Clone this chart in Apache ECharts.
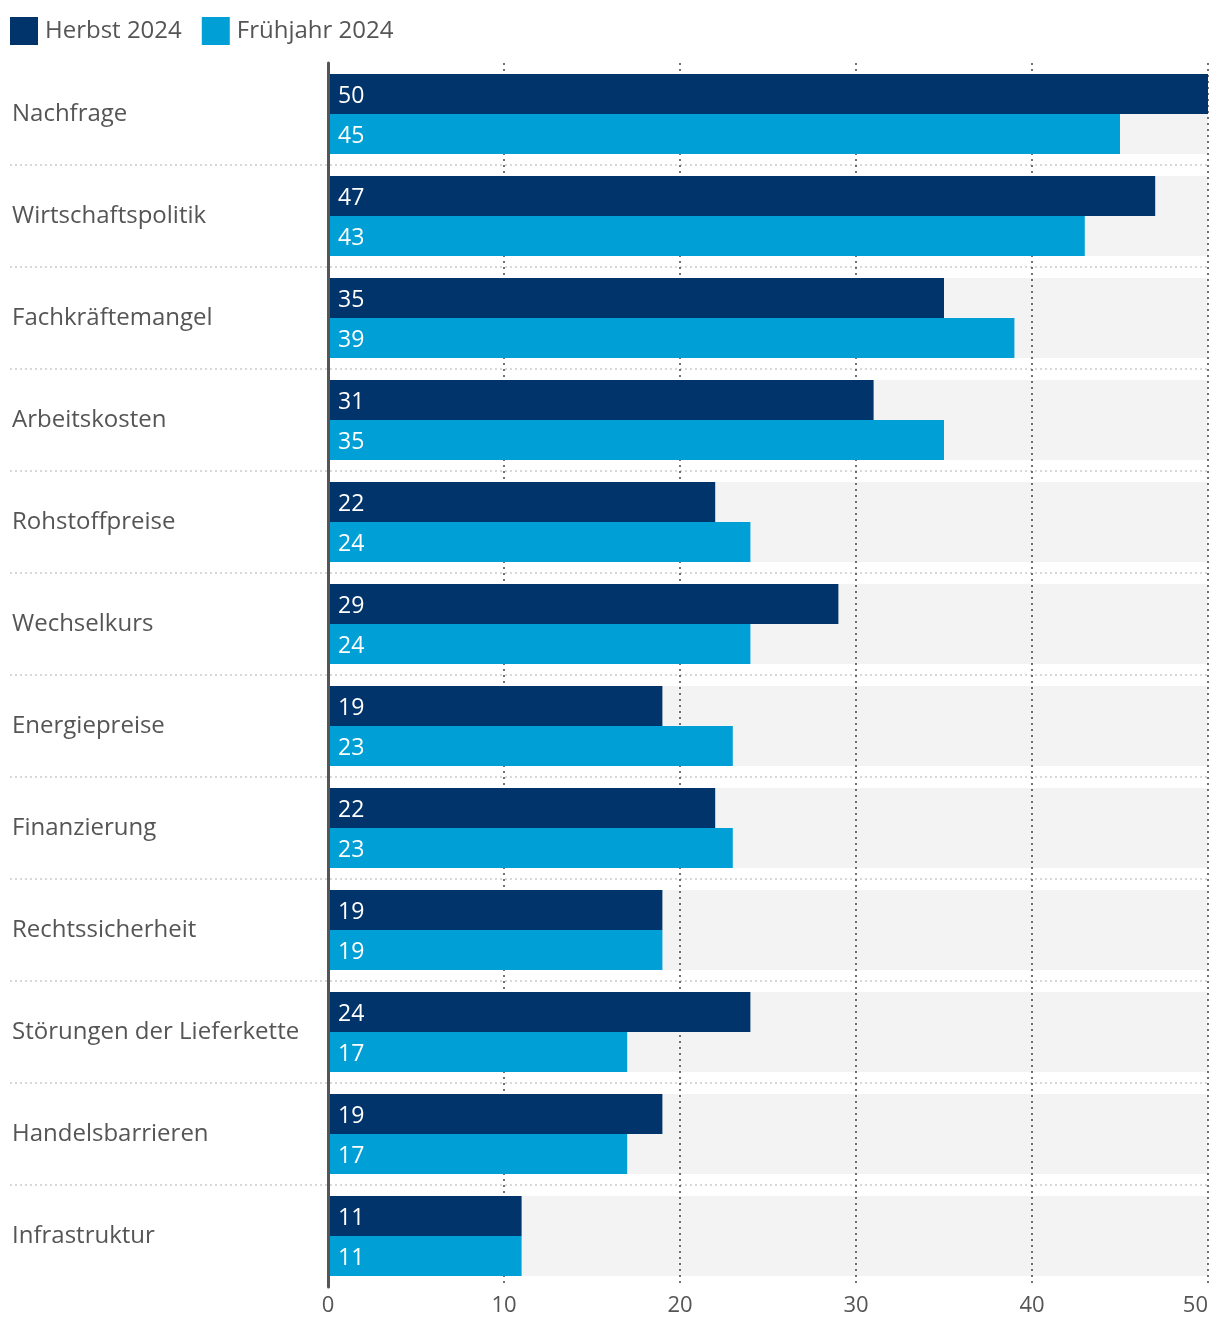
<!DOCTYPE html>
<html><head><meta charset="utf-8">
<script src="https://cdn.jsdelivr.net/npm/echarts@6/dist/echarts.min.js"></script>
<style>html,body{margin:0;padding:0;background:#fff}#c{width:1220px;height:1332px}</style>
</head><body><div id="c"></div>
<script>
const categories = ["Nachfrage","Wirtschaftspolitik","Fachkräftemangel","Arbeitskosten","Rohstoffpreise","Wechselkurs","Energiepreise","Finanzierung","Rechtssicherheit","Störungen der Lieferkette","Handelsbarrieren","Infrastruktur"];
const herbst2024 = [50,47,35,31,22,29,19,22,19,24,19,11];
const fruehjahr2024 = [45,43,39,35,24,24,23,23,19,17,17,11];
const seriesNames = ["Herbst 2024","Frühjahr 2024"];
const axisMax = 50;
const backgroundValues = categories.map(() => axisMax);

const FONT = 'Open Sans';
const chart = echarts.init(document.getElementById('c'), null, {renderer:'canvas'});
const labelStyle = {show:true, position:'insideLeft', distance:10, offset:[0,2], color:'#fff', fontSize:23, fontFamily:FONT};
chart.setOption({
  animation:false,
  textStyle:{fontFamily:FONT},
  legend:{
    data:seriesNames, left:5, top:12, icon:'rect', itemWidth:28, itemHeight:28, itemGap:20,
    textStyle:{fontSize:24, color:'#555', fontFamily:FONT, padding:[2,0,0,2]}
  },
  grid:[
    {left:328, right:12, top:63, bottom:45},
    {left:10, right:12, top:63, bottom:45}
  ],
  xAxis:[
    {gridIndex:0, type:'value', min:0, max:axisMax, interval:10,
     axisLine:{show:false}, axisTick:{show:false},
     axisLabel:{fontSize:22, color:'#555', margin:8, fontFamily:FONT, alignMaxLabel:'right'},
     splitLine:{show:true, lineStyle:{color:'#444', width:1.5, type:[2,4]}}},
    {gridIndex:1, type:'value', show:false, min:0, max:1}
  ],
  yAxis:[
    {gridIndex:0, type:'category', data:categories, inverse:true,
     axisLine:{show:true, lineStyle:{color:'#555', width:3}}, axisTick:{show:false},
     axisLabel:{show:false}, splitLine:{show:false}, z:3},
    {gridIndex:0, type:'category', data:categories, inverse:true, show:false},
    {gridIndex:1, type:'category', data:categories, inverse:true,
     axisLine:{show:false}, axisTick:{show:false},
     axisLabel:{inside:true, margin:2, fontSize:24, color:'#555', fontFamily:FONT, padding:[4,0,0,0]},
     splitLine:{show:true, showMinLine:false, showMaxLine:false, lineStyle:{color:'#ccc', width:1.5, type:[2,3]}}}
  ],
  series:[
    {type:'bar', name:'bg', xAxisIndex:0, yAxisIndex:1, data:backgroundValues, barWidth:80,
     itemStyle:{color:'#f3f3f3'}, silent:true, z:-1, legendHoverLink:false},
    {type:'bar', name:seriesNames[0], xAxisIndex:0, yAxisIndex:0, data:herbst2024, barWidth:40, barGap:'0%',
     itemStyle:{color:'#00346a'}, label:labelStyle, z:2},
    {type:'bar', name:seriesNames[1], xAxisIndex:0, yAxisIndex:0, data:fruehjahr2024, barWidth:40, barGap:'0%',
     itemStyle:{color:'#00a0d6'}, label:labelStyle, z:2}
  ]
});
</script></body></html>
